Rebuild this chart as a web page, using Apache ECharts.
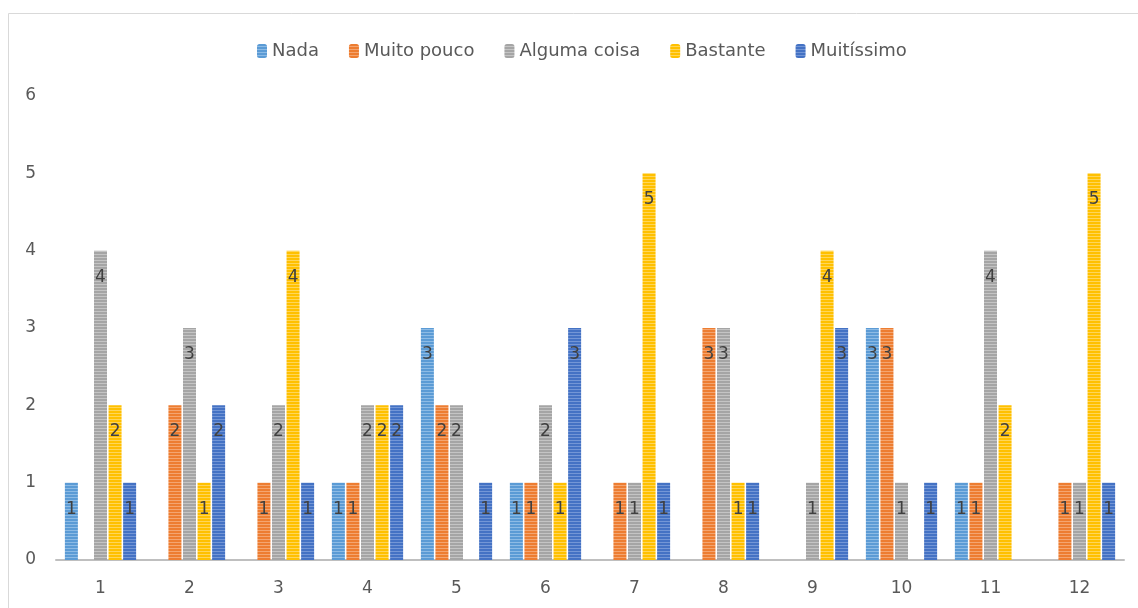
<!DOCTYPE html>
<html>
<head>
<meta charset="utf-8">
<script src="https://cdn.jsdelivr.net/npm/echarts@6/dist/echarts.min.js"></script>
<style>
  html, body { margin: 0; padding: 0; background: #fff; }
  #chart { width: 1138px; height: 608px; }
</style>
</head>
<body>
<div id="chart"></div>
<script>
// categorias e séries (células vazias = '-')
var categories = ['1', '2', '3', '4', '5', '6', '7', '8', '9', '10', '11', '12']
var nada        = [1, '-', '-', 1, 3, 1, '-', '-', '-', 3, 1, '-']
var muitoPouco  = ['-', 2, 1, 1, 2, 1, 1, 3, '-', 3, 1, 1]
var algumaCoisa = [4, 3, 2, 2, 2, 2, 1, 3, 1, 1, 4, 1]
var bastante    = [2, 1, 4, 2, '-', 1, 5, 1, 4, '-', 2, 5]
var muitissimo  = [1, 2, 1, 2, 1, 3, 1, 1, 3, 1, '-', 1]

var seriesNames = ['Nada', 'Muito pouco', 'Alguma coisa', 'Bastante', 'Muitíssimo']
var seriesData = [nada, muitoPouco, algumaCoisa, bastante, muitissimo]
var baseColors = ['#5B9BD5', '#ED7D31', '#A5A5A5', '#FFC000', '#4472C4']
var lightColors = ['#8DBBE5', '#F4A570', '#C4C4C4', '#FFD659', '#7396D6']

// padrão listrado horizontal, como no Excel
function stripes(base, light) {
  var c = document.createElement('canvas')
  c.width = 4
  c.height = 3
  var ctx = c.getContext('2d')
  ctx.fillStyle = base
  ctx.fillRect(0, 0, 4, 3)
  ctx.fillStyle = light
  ctx.fillRect(0, 2, 4, 1)
  return { image: c, repeat: 'repeat' }
}

var font = '"DejaVu Sans", sans-serif'

var series = seriesNames.map(function (name, i) {
  return {
    name: name,
    type: 'bar',
    data: seriesData[i],
    barWidth: 13,
    barGap: '12%',
    itemStyle: { color: stripes(baseColors[i], lightColors[i]) },
    label: {
      show: true,
      position: 'insideTop',
      distance: 18,
      color: '#404040',
      fontSize: 17,
      fontFamily: font
    }
  }
})

var option = {
  animation: false,
  backgroundColor: '#fff',
  graphic: [{
    type: 'rect',
    shape: { x: 8.5, y: 13.5, width: 1140, height: 610 },
    style: { fill: 'none', stroke: '#d9d9d9', lineWidth: 1 },
    silent: true
  }],
  legend: {
    top: 37,
    left: 252,
    itemWidth: 10,
    itemHeight: 14,
    itemGap: 30,
    textStyle: { color: '#595959', fontSize: 18, fontFamily: font }
  },
  grid: { left: 56, right: 14, top: 96, bottom: 48 },
  xAxis: {
    type: 'category',
    data: categories,
    axisLine: { lineStyle: { color: '#BFBFBF', width: 2 } },
    axisTick: { show: false },
    axisLabel: { color: '#595959', fontSize: 17, fontFamily: font, margin: 20 }
  },
  yAxis: {
    type: 'value',
    min: 0,
    max: 6,
    interval: 1,
    splitLine: { show: false },
    axisLine: { show: false },
    axisTick: { show: false },
    axisLabel: { color: '#595959', fontSize: 17, fontFamily: font, margin: 20 }
  },
  series: series
}

var myChart = echarts.init(document.getElementById('chart'))
myChart.setOption(option)
</script>
</body>
</html>
